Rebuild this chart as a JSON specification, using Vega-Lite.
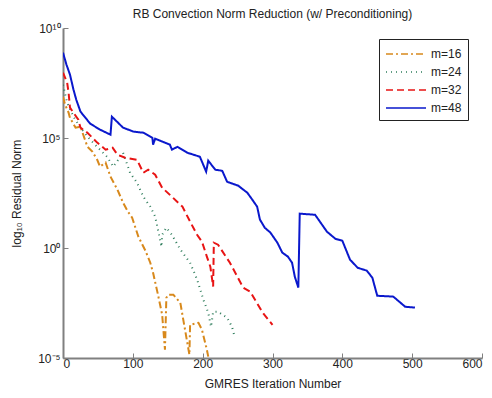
{
  "$schema": "https://vega.github.io/schema/vega-lite/v6.json",
  "width": 419,
  "height": 330,
  "autosize": "none",
  "padding": {"left": 63, "top": 28, "right": 10, "bottom": 40},
  "background": "white",
  "config": {
    "view": {"stroke": null},
    "font": "Liberation Sans",
    "axis": {
      "domainColor": "#808080",
      "domainWidth": 2,
      "tickColor": "#808080",
      "tickWidth": 1,
      "tickSize": -5,
      "grid": false,
      "labelFont": "Liberation Sans",
      "labelFontSize": 12,
      "labelColor": "#222222",
      "titleFont": "Liberation Sans",
      "titleFontSize": 12,
      "titleFontWeight": "normal",
      "titleColor": "#222222"
    }
  },
  "title": {
    "text": "RB Convection Norm Reduction (w/ Preconditioning)",
    "font": "Liberation Sans",
    "fontSize": 12,
    "fontWeight": "normal",
    "color": "#222222",
    "anchor": "middle",
    "offset": 1
  },
  "data": {
    "values": [
      {"series": "m=16", "iter": 0, "logres": 6.87},
      {"series": "m=16", "iter": 3, "logres": 6.51},
      {"series": "m=16", "iter": 8, "logres": 6.15},
      {"series": "m=16", "iter": 10, "logres": 5.92},
      {"series": "m=16", "iter": 18, "logres": 5.47},
      {"series": "m=16", "iter": 25, "logres": 5.51},
      {"series": "m=16", "iter": 28, "logres": 5.24},
      {"series": "m=16", "iter": 35, "logres": 4.6},
      {"series": "m=16", "iter": 42, "logres": 4.38},
      {"series": "m=16", "iter": 49, "logres": 4.01},
      {"series": "m=16", "iter": 53, "logres": 3.7},
      {"series": "m=16", "iter": 61, "logres": 3.88},
      {"series": "m=16", "iter": 68, "logres": 3.24},
      {"series": "m=16", "iter": 78, "logres": 2.65},
      {"series": "m=16", "iter": 86, "logres": 2.06},
      {"series": "m=16", "iter": 93, "logres": 1.65},
      {"series": "m=16", "iter": 99, "logres": 1.38},
      {"series": "m=16", "iter": 108, "logres": 0.51},
      {"series": "m=16", "iter": 118, "logres": -0.12},
      {"series": "m=16", "iter": 125, "logres": -0.67},
      {"series": "m=16", "iter": 129, "logres": -1.13},
      {"series": "m=16", "iter": 136, "logres": -2.12},
      {"series": "m=16", "iter": 142, "logres": -3.03},
      {"series": "m=16", "iter": 146, "logres": -4.62},
      {"series": "m=16", "iter": 148, "logres": -2.26},
      {"series": "m=16", "iter": 151, "logres": -2.12},
      {"series": "m=16", "iter": 158, "logres": -2.12},
      {"series": "m=16", "iter": 168, "logres": -2.49},
      {"series": "m=16", "iter": 174, "logres": -3.58},
      {"series": "m=16", "iter": 181, "logres": -4.85},
      {"series": "m=16", "iter": 182, "logres": -3.49},
      {"series": "m=16", "iter": 194, "logres": -3.4},
      {"series": "m=16", "iter": 199, "logres": -3.72},
      {"series": "m=16", "iter": 206, "logres": -4.62},
      {"series": "m=16", "iter": 208, "logres": -4.94},

      {"series": "m=24", "iter": 0, "logres": 7.42},
      {"series": "m=24", "iter": 6, "logres": 6.6},
      {"series": "m=24", "iter": 15, "logres": 5.97},
      {"series": "m=24", "iter": 25, "logres": 5.47},
      {"series": "m=24", "iter": 39, "logres": 4.92},
      {"series": "m=24", "iter": 53, "logres": 4.47},
      {"series": "m=24", "iter": 63, "logres": 4.15},
      {"series": "m=24", "iter": 72, "logres": 3.7},
      {"series": "m=24", "iter": 79, "logres": 4.01},
      {"series": "m=24", "iter": 86, "logres": 4.33},
      {"series": "m=24", "iter": 96, "logres": 3.42},
      {"series": "m=24", "iter": 106, "logres": 2.97},
      {"series": "m=24", "iter": 115, "logres": 2.33},
      {"series": "m=24", "iter": 125, "logres": 1.88},
      {"series": "m=24", "iter": 132, "logres": 1.42},
      {"series": "m=24", "iter": 136, "logres": 0.83},
      {"series": "m=24", "iter": 141, "logres": 0.06},
      {"series": "m=24", "iter": 142, "logres": 0.6},
      {"series": "m=24", "iter": 148, "logres": 0.92},
      {"series": "m=24", "iter": 156, "logres": 0.6},
      {"series": "m=24", "iter": 168, "logres": -0.07},
      {"series": "m=24", "iter": 182, "logres": -0.67},
      {"series": "m=24", "iter": 192, "logres": -1.43},
      {"series": "m=24", "iter": 201, "logres": -2.35},
      {"series": "m=24", "iter": 208, "logres": -2.94},
      {"series": "m=24", "iter": 212, "logres": -3.58},
      {"series": "m=24", "iter": 215, "logres": -2.9},
      {"series": "m=24", "iter": 222, "logres": -2.9},
      {"series": "m=24", "iter": 235, "logres": -3.17},
      {"series": "m=24", "iter": 242, "logres": -3.58},
      {"series": "m=24", "iter": 245, "logres": -3.94},

      {"series": "m=32", "iter": 0, "logres": 7.97},
      {"series": "m=32", "iter": 6, "logres": 7.51},
      {"series": "m=32", "iter": 8, "logres": 7.06},
      {"series": "m=32", "iter": 10, "logres": 6.38},
      {"series": "m=32", "iter": 22, "logres": 5.83},
      {"series": "m=32", "iter": 25, "logres": 5.47},
      {"series": "m=32", "iter": 35, "logres": 5.24},
      {"series": "m=32", "iter": 49, "logres": 4.79},
      {"series": "m=32", "iter": 61, "logres": 4.47},
      {"series": "m=32", "iter": 71, "logres": 4.56},
      {"series": "m=32", "iter": 78, "logres": 4.24},
      {"series": "m=32", "iter": 89, "logres": 4.1},
      {"series": "m=32", "iter": 106, "logres": 4.01},
      {"series": "m=32", "iter": 115, "logres": 3.42},
      {"series": "m=32", "iter": 122, "logres": 3.56},
      {"series": "m=32", "iter": 132, "logres": 3.33},
      {"series": "m=32", "iter": 142, "logres": 2.74},
      {"series": "m=32", "iter": 156, "logres": 2.33},
      {"series": "m=32", "iter": 171, "logres": 1.88},
      {"series": "m=32", "iter": 182, "logres": 1.2},
      {"series": "m=32", "iter": 192, "logres": 0.6},
      {"series": "m=32", "iter": 199, "logres": 0.29},
      {"series": "m=32", "iter": 206, "logres": -0.39},
      {"series": "m=32", "iter": 211, "logres": -0.85},
      {"series": "m=32", "iter": 215, "logres": -1.75},
      {"series": "m=32", "iter": 216, "logres": 0.24},
      {"series": "m=32", "iter": 222, "logres": 0.15},
      {"series": "m=32", "iter": 239, "logres": -0.67},
      {"series": "m=32", "iter": 258, "logres": -1.8},
      {"series": "m=32", "iter": 268, "logres": -1.98},
      {"series": "m=32", "iter": 286, "logres": -2.94},
      {"series": "m=32", "iter": 300, "logres": -3.49},

      {"series": "m=48", "iter": 0, "logres": 8.88},
      {"series": "m=48", "iter": 5, "logres": 8.33},
      {"series": "m=48", "iter": 10, "logres": 7.88},
      {"series": "m=48", "iter": 15, "logres": 7.2},
      {"series": "m=48", "iter": 19, "logres": 6.74},
      {"series": "m=48", "iter": 25, "logres": 6.2},
      {"series": "m=48", "iter": 39, "logres": 5.65},
      {"series": "m=48", "iter": 53, "logres": 5.38},
      {"series": "m=48", "iter": 68, "logres": 5.15},
      {"series": "m=48", "iter": 70, "logres": 5.97},
      {"series": "m=48", "iter": 86, "logres": 5.47},
      {"series": "m=48", "iter": 101, "logres": 5.29},
      {"series": "m=48", "iter": 115, "logres": 5.24},
      {"series": "m=48", "iter": 128, "logres": 5.01},
      {"series": "m=48", "iter": 129, "logres": 4.7},
      {"series": "m=48", "iter": 132, "logres": 4.97},
      {"series": "m=48", "iter": 153, "logres": 4.7},
      {"series": "m=48", "iter": 156, "logres": 4.47},
      {"series": "m=48", "iter": 164, "logres": 4.6},
      {"series": "m=48", "iter": 178, "logres": 4.33},
      {"series": "m=48", "iter": 196, "logres": 4.15},
      {"series": "m=48", "iter": 205, "logres": 3.47},
      {"series": "m=48", "iter": 208, "logres": 3.97},
      {"series": "m=48", "iter": 218, "logres": 3.56},
      {"series": "m=48", "iter": 228, "logres": 3.51},
      {"series": "m=48", "iter": 235, "logres": 3.01},
      {"series": "m=48", "iter": 251, "logres": 2.83},
      {"series": "m=48", "iter": 264, "logres": 2.51},
      {"series": "m=48", "iter": 271, "logres": 2.2},
      {"series": "m=48", "iter": 278, "logres": 1.88},
      {"series": "m=48", "iter": 282, "logres": 1.29},
      {"series": "m=48", "iter": 289, "logres": 0.92},
      {"series": "m=48", "iter": 297, "logres": 0.7},
      {"series": "m=48", "iter": 307, "logres": 0.24},
      {"series": "m=48", "iter": 314, "logres": -0.21},
      {"series": "m=48", "iter": 322, "logres": -0.39},
      {"series": "m=48", "iter": 328, "logres": -0.67},
      {"series": "m=48", "iter": 332, "logres": -1.31},
      {"series": "m=48", "iter": 337, "logres": -1.8},
      {"series": "m=48", "iter": 339, "logres": 1.56},
      {"series": "m=48", "iter": 361, "logres": 1.51},
      {"series": "m=48", "iter": 378, "logres": 0.74},
      {"series": "m=48", "iter": 390, "logres": 0.42},
      {"series": "m=48", "iter": 400, "logres": 0.33},
      {"series": "m=48", "iter": 411, "logres": -0.53},
      {"series": "m=48", "iter": 422, "logres": -0.9},
      {"series": "m=48", "iter": 435, "logres": -1.03},
      {"series": "m=48", "iter": 443, "logres": -1.35},
      {"series": "m=48", "iter": 450, "logres": -2.17},
      {"series": "m=48", "iter": 473, "logres": -2.21},
      {"series": "m=48", "iter": 490, "logres": -2.67},
      {"series": "m=48", "iter": 504, "logres": -2.71}
    ]
  },
  "mark": {"type": "line", "strokeWidth": 2, "clip": true},
  "encoding": {
    "x": {
      "field": "iter",
      "type": "quantitative",
      "scale": {"domain": [0, 600], "nice": false},
      "axis": {"title": "GMRES Iteration Number", "values": [0, 100, 200, 300, 400, 500, 600], "labelPadding": 5, "titlePadding": 9}
    },
    "y": {
      "field": "logres",
      "type": "quantitative",
      "scale": {"domain": [-5, 10], "nice": false, "zero": false},
      "axis": {
        "title": "log₁₀ Residual Norm",
        "values": [-5, 0, 5, 10],
        "labelExpr": "datum.value == 10 ? '10¹⁰' : datum.value == 5 ? '10⁵' : datum.value == 0 ? '10⁰' : '10⁻⁵'",
        "labelPadding": 8,
        "titlePadding": 14
      }
    },
    "color": {
      "field": "series",
      "type": "nominal",
      "scale": {"domain": ["m=16", "m=24", "m=32", "m=48"], "range": ["#d8891c", "#2f7d5c", "#e81414", "#0a18cc"]},
      "legend": {
        "title": null,
        "orient": "none",
        "legendX": 316,
        "legendY": 11,
        "strokeColor": "#222222",
        "fillColor": "white",
        "padding": 6,
        "symbolType": "M-1,0H4",
        "symbolSize": 256,
        "symbolStrokeWidth": 1.5,
        "labelFontSize": 12,
        "labelFont": "Liberation Sans",
        "labelColor": "#222222",
        "rowPadding": 3,
        "labelOffset": 28
      }
    },
    "strokeDash": {
      "field": "series",
      "type": "nominal",
      "scale": {"domain": ["m=16", "m=24", "m=32", "m=48"], "range": [[7, 3, 2, 3], [1, 4], [7, 4], [1, 0]]},
      "legend": null
    }
  }
}
